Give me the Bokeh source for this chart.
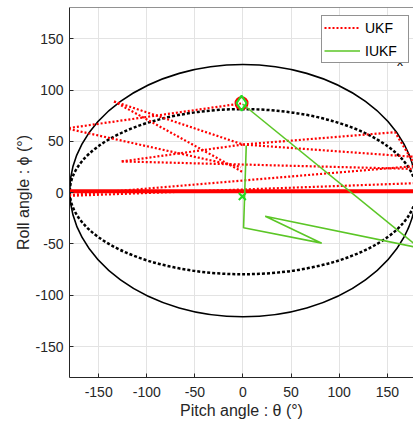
import numpy as np
from bokeh.plotting import figure
from bokeh.models import (Range1d, FixedTicker, Legend, LegendItem, Label, Span)
from bokeh.embed import file_html
from bokeh.resources import INLINE

# ---------------- data (degrees) ----------------
tick_values = [-150, -100, -50, 0, 50, 100, 150]
tick_labels = {v: str(v) for v in tick_values}   # plain hyphen-minus like the reference

# reference ellipses: centre x, centre y, full width, full height
outer_x, outer_y, outer_w, outer_h = [0.0], [2.0], [360.0], [246.0]
inner_x, inner_y, inner_w, inner_h = [0.0], [1.0], [360.0], [161.0]

# UKF estimate (red dotted), as straight pieces
ukf_x = [[-185, -2], [-185, -2], [-134, 0], [-134, 0], [-126, 185],
         [-126, 0], [0, 158, 185], [0, 185], [-185, 185], [-185, 185]]
ukf_y = [[62.5, 87], [63, 25], [89, 47], [89, 20], [30.5, 23.0],
         [30.5, 47], [47, 59, 17], [47, 34.5], [-2.7, 26.5], [-3.2, 9.5]]

# UKF thick band near zero roll
band_x = [-185, 185]
band_y = [1.5, 1.5]

# IUKF_x estimate (green solid)
iukf_x = [[3.4, 0.6, 81.8, 23.1, 190], [-0.5, 190]]
iukf_y = [[46.0, -34.2, -49.2, -22.9, -55.1], [86.5, -59.0]]

start_x, start_y = [-0.7], [-3.7]
end_x, end_y = [-1.5], [87.3]

# ---------------- figure ----------------
FONT = "Liberation Sans"
AX = "#262626"
X0, X1 = -180.3, 177.2
Y0, Y1 = -180.2, 180.6

p = figure(width=413, height=426,
           x_range=Range1d(X0, X1), y_range=Range1d(Y0, Y1),
           output_backend="svg", toolbar_location=None,
           min_border_left=69, min_border_right=0, min_border_top=7,
           min_border_bottom=49)
p.outline_line_color = None
p.background_fill_color = "white"

ticker = FixedTicker(ticks=tick_values)
for ax in (p.xaxis[0], p.yaxis[0]):
    ax.ticker = ticker
    ax.major_label_overrides = tick_labels
    ax.axis_line_color = AX
    ax.major_tick_line_color = AX
    ax.major_tick_in = 4
    ax.major_tick_out = 0
    ax.minor_tick_line_color = None
    ax.major_label_text_font = FONT
    ax.major_label_text_font_size = "14px"
    ax.major_label_text_color = AX
    ax.axis_label_text_font = FONT
    ax.axis_label_text_font_size = "16px"
    ax.axis_label_text_font_style = "normal"
    ax.axis_label_text_color = AX

p.xaxis.axis_label = "Pitch angle : θ (°)"
p.yaxis.axis_label = "Roll angle : ϕ (°)"
p.xaxis.major_label_standoff = 9
p.xaxis.axis_label_standoff = 2
p.yaxis.major_label_standoff = 6
p.yaxis.axis_label_standoff = 0

# top border of the axes box
p.add_layout(Span(location=Y1, dimension="width", line_color=AX, line_width=1))

p.xgrid.ticker = ticker
p.ygrid.ticker = ticker
p.xgrid.grid_line_color = "#e3e3e3"
p.ygrid.grid_line_color = "#e3e3e3"

# ellipses
p.ellipse(x=outer_x, y=outer_y, width=outer_w, height=outer_h,
          fill_color=None, line_color="black", line_width=1.6)
p.ellipse(x=inner_x, y=inner_y, width=inner_w, height=inner_h,
          fill_color=None, line_color="black", line_width=2.5, line_dash="3 2")

# UKF
r_ukf = p.multi_line(xs=ukf_x, ys=ukf_y, line_color="red", line_width=2.2,
                     line_dash="2 2")
p.line(band_x, band_y, line_color="red", line_width=4)
p.scatter(end_x, end_y, marker="circle", size=12, fill_color=None,
          line_color="red", line_width=2)

# IUKF_x
GREEN = "#5bc626"
r_iukf = p.multi_line(xs=iukf_x, ys=iukf_y, line_color=GREEN, line_width=1.6)
p.scatter(end_x, end_y, marker="diamond", size=15, fill_color=None,
          line_color="#22dd22", line_width=2)
p.scatter(start_x, start_y, marker="x", size=10, line_color="#22dd22",
          line_width=2)

legend = Legend(items=[LegendItem(label="UKF", renderers=[r_ukf]),
                       LegendItem(label="IUKF", renderers=[r_iukf])],
                location=(252, 314), orientation="vertical",
                border_line_color=AX, border_line_width=1,
                background_fill_color="white", background_fill_alpha=1.0,
                label_text_font=FONT, label_text_font_size="14px",
                label_text_color="black", glyph_width=36, glyph_height=19,
                label_height=19, label_standoff=5, spacing=4, padding=2,
                margin=0, label_width=41)
p.add_layout(legend)

# subscript of IUKF_x in the legend
p.add_layout(Label(x=160.0, y=127.0, text="x", text_font=FONT,
                   text_font_size="12px", text_color="black",
                   text_baseline="alphabetic"))

open("out.html", "w").write(file_html(p, INLINE))
